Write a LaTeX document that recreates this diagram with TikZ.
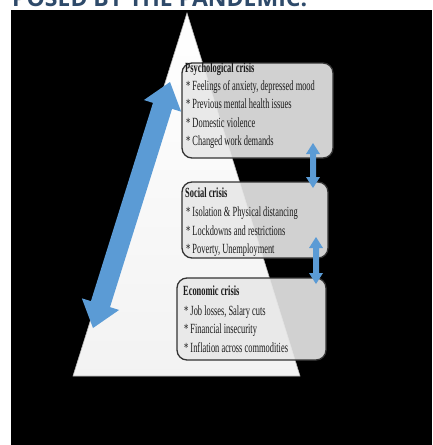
\documentclass[tikz,border=0pt]{standalone}
\usepackage{fontspec}
\setmainfont{Liberation Serif}[FakeStretch=0.6]
\newfontfamily\titlefont{Open Sans}
\usetikzlibrary{calc}
\definecolor{arrowblue}{HTML}{5B9BD5}
\definecolor{titleblue}{HTML}{2E4A6A}
\definecolor{textdark}{HTML}{1A1A1A}
% #1 start, #2 end, #3 shaft half width, #4 head half width, #5 head length
\newcommand{\blockarrow}[5]{%
  \path ($(#1)!#5!(#2)$) coordinate (ba2) ($(#2)!#5!(#1)$) coordinate (ba3);
  \fill[arrowblue] (#1) -- ($(ba2)!#4!90:(#1)$) -- ($(ba2)!#3!90:(#1)$)
    -- ($(ba3)!#3!-90:(#2)$) -- ($(ba3)!#4!-90:(#2)$) -- (#2)
    -- ($(ba3)!#4!90:(#2)$) -- ($(ba3)!#3!90:(#2)$)
    -- ($(ba2)!#3!-90:(#1)$) -- ($(ba2)!#4!-90:(#1)$) -- cycle;}
\tikzset{
  crisisbox/.style={draw=black!80, line width=1.3pt, fill=gray!18, fill opacity=0.9,
    rounded corners=10pt, inner sep=0pt},
  boxtext/.style={anchor=base west, inner sep=0pt, text=textdark,
    font=\fontsize{14}{16}\selectfont},
  boxhead/.style={boxtext, font=\fontsize{14}{16}\selectfont\bfseries}
}
\begin{document}
\begin{tikzpicture}[x=1pt,y=-1pt]
\useasboundingbox (0,0) rectangle (432,445);
\clip (0,0) rectangle (432,445);
\fill[white] (0,0) rectangle (432,445);
\node[anchor=base west, inner sep=0pt, text=titleblue,
  font=\titlefont\bfseries\fontsize{23}{23}\selectfont] (title) at (12,6.5) {POSED BY THE PANDEMIC.};
\fill[black] (11,10) rectangle (432,445);
% pyramid
\coordinate (apex) at (187,13);
\coordinate (bl) at (73,376);
\coordinate (br) at (300,376);
\shade[top color=white, bottom color=gray!10, draw=gray!55, line width=0.6pt]
  (apex) -- (br) -- (bl) -- cycle;
% big double arrow
\coordinate (bigtop) at (170,82);
\coordinate (bigbot) at (93,328);
\blockarrow{bigtop}{bigbot}{10pt}{19.5pt}{25pt}
% boxes
\node[crisisbox, minimum width=151, minimum height=95] (psy) at (257.5,110.5) {};
\node[crisisbox, minimum width=146, minimum height=76] (soc) at (255,220) {};
\node[crisisbox, minimum width=149, minimum height=82] (eco) at (251.5,319) {};
% texts
\node[boxhead] (psy0) at (185,72.5) {Psychological crisis};
\node[boxtext] (psy1) at (186,90.5) {* Feelings of anxiety, depressed mood};
\node[boxtext] (psy2) at (186,108.5) {* Previous mental health issues};
\node[boxtext] (psy3) at (186,127.5) {* Domestic violence};
\node[boxtext] (psy4) at (186,145.5) {* Changed work demands};
\node[boxhead] (soc0) at (185,197.5) {Social crisis};
\node[boxtext] (soc1) at (186,216.5) {* Isolation \& Physical distancing};
\node[boxtext] (soc2) at (186,235.5) {* Lockdowns and restrictions};
\node[boxtext] (soc3) at (186,253.5) {* Poverty, Unemployment};
\node[boxhead] (eco0) at (183,295.5) {Economic crisis};
\node[boxtext] (eco1) at (184,315.5) {* Job losses, Salary cuts};
\node[boxtext] (eco2) at (184,333.5) {* Financial insecurity};
\node[boxtext] (eco3) at (184,352.5) {* Inflation across commodities};
% small double arrows between boxes
\coordinate (a1t) at (313,143);
\coordinate (a1b) at (313,188);
\coordinate (a2t) at (316,237);
\coordinate (a2b) at (316,284);
\blockarrow{a1t}{a1b}{3pt}{7pt}{11pt}
\blockarrow{a2t}{a2b}{3pt}{7pt}{11pt}
\end{tikzpicture}
\end{document}
